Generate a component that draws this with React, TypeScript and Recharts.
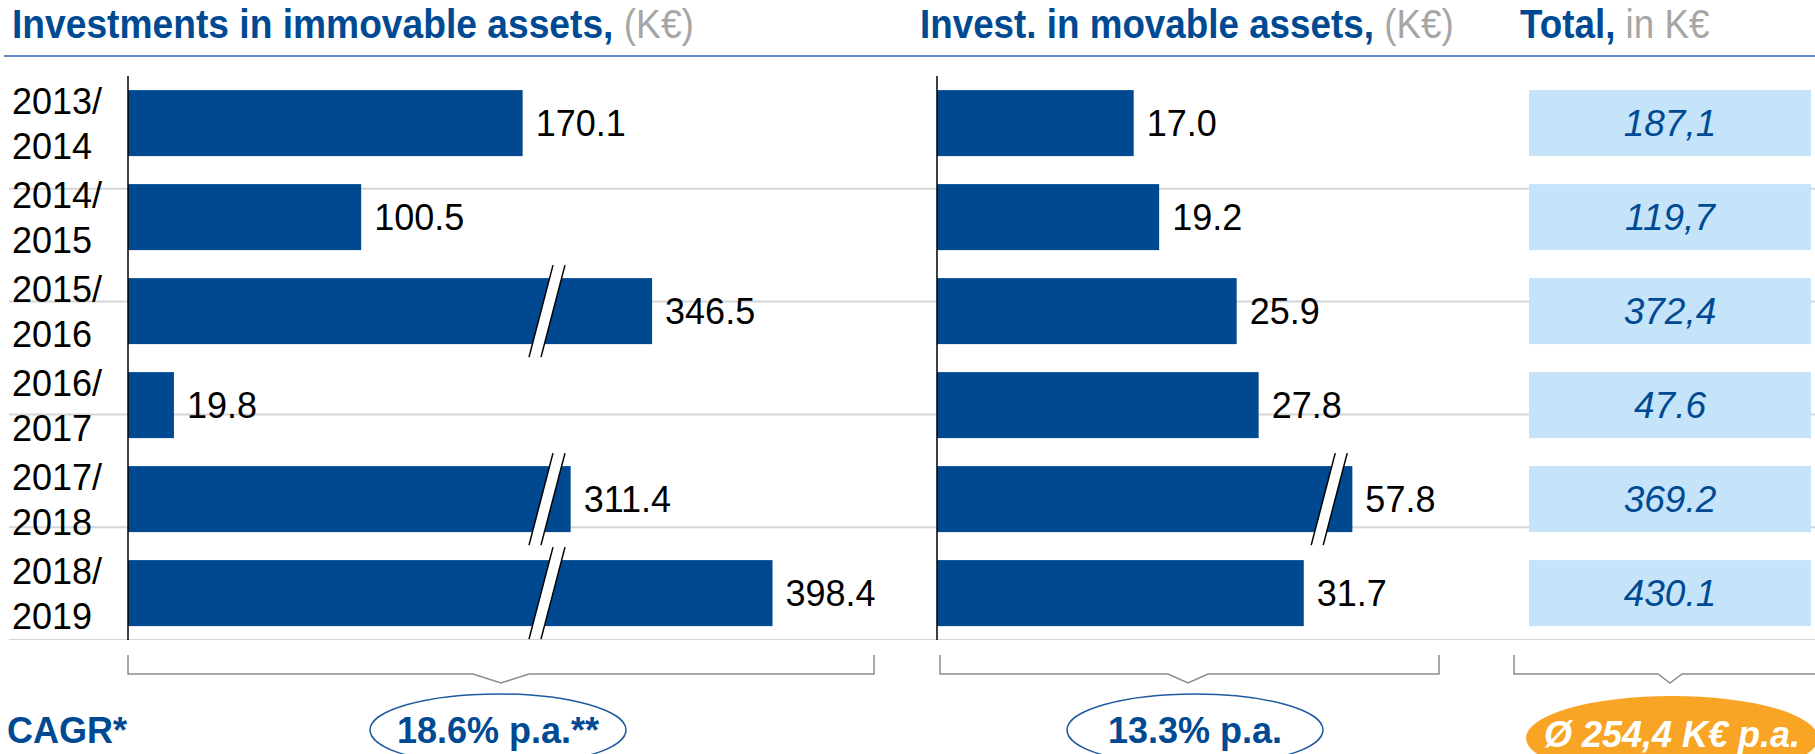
import { BarChart, Bar, XAxis, YAxis, CartesianGrid, LabelList, ReferenceLine } from "recharts"

const PERIODS = ["2013/2014", "2014/2015", "2015/2016", "2016/2017", "2017/2018", "2018/2019"]
const IMMOVABLE = [170.1, 100.5, 346.5, 19.8, 311.4, 398.4]
const MOVABLE = [17.0, 19.2, 25.9, 27.8, 57.8, 31.7]
const TOTALS = [187.1, 119.7, 372.4, 47.6, 369.2, 430.1]
const TOTAL_LABELS = ["187,1", "119,7", "372,4", "47.6", "369.2", "430.1"]
const CAGR_LABELS = ["18.6% p.a.**", "13.3% p.a."]
const AVERAGE_LABEL = "Ø 254,4 K€ p.a."

const BLUE = "#004a93"
const BAR = "#004990"
const LIGHT = "#c5e3f9"
const ORANGE = "#f8a526"
const GREY_TEXT = "#a6a6a6"
const GRID = "#d6d6d6"
const BRACKET = "#8c8c8c"
const FONT = "'Liberation Sans', Arial, Helvetica, sans-serif"

// layout (page pixels)
const W = 1815
const H = 754
const PLOT_TOP = 76
const PLOT_H = 564
const ROW_LEFT = 9
const IMM_ZERO = 128
const IMM_RIGHT = 900
const IMM_PPU = 2.32
const MOV_ZERO = 937
const MOV_RIGHT = 1529
const MOV_PPU = 11.57

// broken axes: values above `above` are drawn shortened by `cut`, slash drawn at `at`
type Break = { above: number; cut: number; at: number }
const IMM_BREAK: Break = { above: 300, cut: 120.6, at: 180.6 }
const MOV_BREAK: Break = { above: 50, cut: 21.9, at: 33.9 }

const makeRows = (values: number[], brk: Break) =>
  PERIODS.map((period, i) => {
    const raw = values[i]
    const broken = raw > brk.above
    return { period, raw, plotted: broken ? raw - brk.cut : raw, broken }
  })

const immRows = makeRows(IMMOVABLE, IMM_BREAK)
const movRows = makeRows(MOVABLE, MOV_BREAK)
const totRows = PERIODS.map((period, i) => ({ period, total: TOTALS[i], label: TOTAL_LABELS[i] }))

// row separators sit on the boundaries between periods
const gridTicks = PERIODS.slice(1).map((_, i) => i + 1)

const brokenBar = (brk: Break) => (props: any) => {
  const { x, y, width, height, payload } = props
  const rect = <rect x={x} y={y} width={width} height={height} fill={BAR} />
  if (!payload.broken) return rect
  const bx = x + (brk.at / payload.plotted) * width
  const top = y - 13
  const bottom = y + height + 13
  const lean = 12
  const half = 6
  return (
    <g>
      {rect}
      <polygon
        points={`${bx + lean - half},${top} ${bx + lean + half},${top} ${bx - lean + half},${bottom} ${bx - lean - half},${bottom}`}
        fill="#fff"
      />
      <line x1={bx + lean - half} y1={top} x2={bx - lean - half} y2={bottom} stroke="#000" strokeWidth={1.5} />
      <line x1={bx + lean + half} y1={top} x2={bx - lean + half} y2={bottom} stroke="#000" strokeWidth={1.5} />
    </g>
  )
}

const TotalCell = (props: any) => {
  const { y, height, payload, background } = props
  const bx = background ? background.x : 0
  const bw = background ? background.width : W - MOV_RIGHT
  return (
    <g>
      <rect x={bx} y={y} width={bw - 4} height={height} fill={LIGHT} />
      <text
        x={bx + (bw - 4) / 2}
        y={y + height / 2}
        textAnchor="middle"
        dominantBaseline="central"
        fontStyle="italic"
        fontSize={37}
        fontFamily={FONT}
        fill={BLUE}
      >
        {payload.label}
      </text>
    </g>
  )
}

const PeriodTick = ({ x, y, payload }: any) => {
  const [a, b] = String(payload.value).split("/")
  return (
    <text x={x} y={y} fontSize={36} fontFamily={FONT} fill="#000" textAnchor="start">
      <tspan x={x} dy={-9}>{a}/</tspan>
      <tspan x={x} dy={45}>{b}</tspan>
    </text>
  )
}

const valueLabel = (v: any) => Number(v).toFixed(1)

function App() {
  const immW = IMM_RIGHT - ROW_LEFT
  const movW = MOV_RIGHT - IMM_RIGHT
  const totW = W - MOV_RIGHT
  const immDomain = [-(IMM_ZERO - ROW_LEFT) / IMM_PPU, (IMM_RIGHT - IMM_ZERO) / IMM_PPU]
  const movDomain = [-(MOV_ZERO - IMM_RIGHT) / MOV_PPU, (MOV_RIGHT - MOV_ZERO) / MOV_PPU]

  return (
    <div style={{ position: "relative", width: W, height: H, overflow: "hidden", background: "#fff", fontFamily: FONT }}>
      <style>{"body{margin:0}"}</style>

      <div style={{ position: "absolute", left: ROW_LEFT, top: PLOT_TOP }}>
        <BarChart width={immW} height={PLOT_H} data={immRows} layout="vertical" margin={{ top: 0, right: 0, bottom: 0, left: 0 }} barCategoryGap="15%">
          <CartesianGrid yAxisId="rows" vertical={false} horizontalValues={gridTicks} stroke={GRID} strokeWidth={2} />
          <XAxis type="number" domain={immDomain} allowDataOverflow hide />
          <YAxis type="category" dataKey="period" mirror width={1} axisLine={false} tickLine={false} tickSize={0} tickMargin={3} tick={<PeriodTick />} interval={0} />
          <YAxis yAxisId="rows" type="number" domain={[0, PERIODS.length]} ticks={gridTicks} allowDataOverflow hide />
          <ReferenceLine x={0} stroke="#000" strokeWidth={1.5} />
          <Bar dataKey="plotted" isAnimationActive={false} shape={brokenBar(IMM_BREAK)}>
            <LabelList dataKey="raw" position="right" offset={13} formatter={valueLabel} fill="#000" fontSize={36} fontFamily={FONT} />
          </Bar>
        </BarChart>
      </div>

      <div style={{ position: "absolute", left: IMM_RIGHT, top: PLOT_TOP }}>
        <BarChart width={movW} height={PLOT_H} data={movRows} layout="vertical" margin={{ top: 0, right: 0, bottom: 0, left: 0 }} barCategoryGap="15%">
          <CartesianGrid yAxisId="rows" vertical={false} horizontalValues={gridTicks} stroke={GRID} strokeWidth={2} />
          <XAxis type="number" domain={movDomain} allowDataOverflow hide />
          <YAxis type="category" dataKey="period" hide />
          <YAxis yAxisId="rows" type="number" domain={[0, PERIODS.length]} ticks={gridTicks} allowDataOverflow hide />
          <ReferenceLine x={0} stroke="#000" strokeWidth={1.5} />
          <Bar dataKey="plotted" isAnimationActive={false} shape={brokenBar(MOV_BREAK)}>
            <LabelList dataKey="raw" position="right" offset={13} formatter={valueLabel} fill="#000" fontSize={36} fontFamily={FONT} />
          </Bar>
        </BarChart>
      </div>

      <div style={{ position: "absolute", left: MOV_RIGHT, top: PLOT_TOP }}>
        <BarChart width={totW} height={PLOT_H} data={totRows} layout="vertical" margin={{ top: 0, right: 0, bottom: 0, left: 0 }} barCategoryGap="15%">
          <CartesianGrid yAxisId="rows" vertical={false} horizontalValues={gridTicks} stroke={GRID} strokeWidth={2} />
          <XAxis type="number" domain={[0, "dataMax"]} hide />
          <YAxis type="category" dataKey="period" hide />
          <YAxis yAxisId="rows" type="number" domain={[0, PERIODS.length]} ticks={gridTicks} allowDataOverflow hide />
          <Bar dataKey="total" isAnimationActive={false} shape={<TotalCell />} />
        </BarChart>
      </div>

      <svg width={W} height={H} style={{ position: "absolute", left: 0, top: 0, pointerEvents: "none" }} fontFamily={FONT}>
        {/* headers */}
        <g transform="translate(12,38) scale(0.93,1)">
          <text fontSize={40}>
            <tspan fontWeight="bold" fill={BLUE}>Investments in immovable assets,</tspan>
            <tspan fill={GREY_TEXT}> (K€)</tspan>
          </text>
        </g>
        <g transform="translate(920,38) scale(0.92,1)">
          <text fontSize={40}>
            <tspan fontWeight="bold" fill={BLUE}>Invest. in movable assets,</tspan>
            <tspan fill={GREY_TEXT}> (K€)</tspan>
          </text>
        </g>
        <g transform="translate(1520,38) scale(0.92,1)">
          <text fontSize={40}>
            <tspan fontWeight="bold" fill={BLUE}>Total,</tspan>
            <tspan fill={GREY_TEXT}> in K€</tspan>
          </text>
        </g>
        <line x1={4} y1={56} x2={W} y2={56} stroke="#5b8ac4" strokeWidth={2} />

        {/* brackets */}
        <path d={`M${IMM_ZERO},655 V674 H473 L501,683 L529,674 H874 V655`} fill="none" stroke={BRACKET} strokeWidth={1.5} />
        <path d="M940,655 V674 H1168 L1188,683 L1208,674 H1439 V655" fill="none" stroke={BRACKET} strokeWidth={1.5} />
        <path d={`M1514,655 V674 H1658 L1670,683 L1682,674 H${W}`} fill="none" stroke={BRACKET} strokeWidth={1.5} />

        {/* growth rates */}
        <text x={7} y={743} fontSize={36} fontWeight="bold" fill={BLUE}>CAGR*</text>
        <ellipse cx={498} cy={730} rx={128} ry={36} fill="none" stroke="#1f5a9e" strokeWidth={1.5} />
        <text x={498} y={743} textAnchor="middle" fontSize={36} fontWeight="bold" fill={BLUE}>{CAGR_LABELS[0]}</text>
        <ellipse cx={1195} cy={730} rx={128} ry={36} fill="none" stroke="#1f5a9e" strokeWidth={1.5} />
        <text x={1195} y={743} textAnchor="middle" fontSize={36} fontWeight="bold" fill={BLUE}>{CAGR_LABELS[1]}</text>
        <ellipse cx={1672} cy={738} rx={146} ry={42} fill={ORANGE} />
        <text x={1672} y={747} textAnchor="middle" fontSize={36} fontWeight="bold" fontStyle="italic" fill="#fff">{AVERAGE_LABEL}</text>
      </svg>
    </div>
  )
}

export default App
